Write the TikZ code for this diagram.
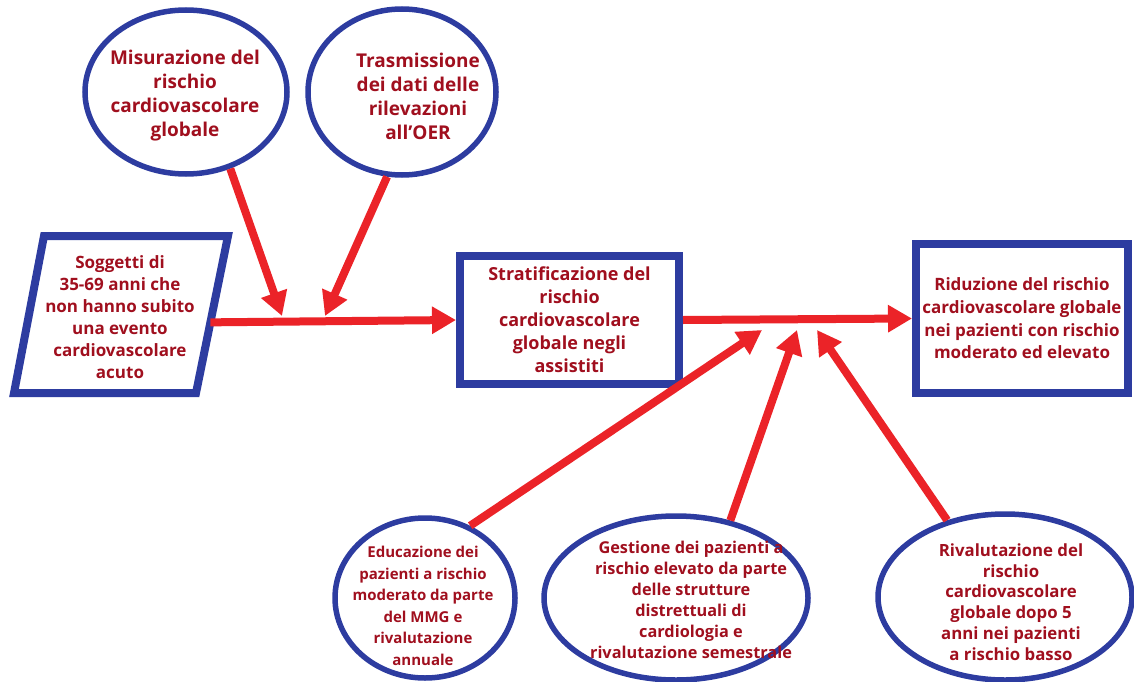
\documentclass[tikz,border=0pt]{standalone}
\usepackage{fontspec}
\setmainfont{Open Sans}
\usetikzlibrary{shapes.geometric,arrows.meta,calc}
\definecolor{bordblue}{RGB}{45,60,160}
\definecolor{txtred}{RGB}{160,15,30}
\definecolor{arrred}{RGB}{235,35,40}
\begin{document}
\begin{tikzpicture}[x=1pt,y=-1pt,
  lbl/.style={text=txtred, align=center, inner sep=0pt, font=\bfseries\fontsize{17}{22}\selectfont},
  ell/.style={draw=bordblue, line width=5.5pt, ellipse, inner sep=0pt},
  box/.style={draw=bordblue, line width=8pt, rectangle, inner sep=0pt, text=txtred, align=center},
  arr/.style={draw=arrred, line width=8pt, -{Triangle[length=24pt,width=26pt]}},
]
\useasboundingbox (0,0) rectangle (1134,682);

% parallelogram
\coordinate (pa) at (44,236);
\coordinate (pb) at (228,236);
\coordinate (pc) at (196,393);
\coordinate (pd) at (14,393);
\draw[draw=bordblue, line width=8pt, line join=miter] (pa) -- (pb) -- (pc) -- (pd) -- cycle;
\node[lbl] (sog) at (120,317) {Soggetti di\\35-69 anni che\\non hanno subito\\una evento\\cardiovascolare\\acuto};

% top ellipses
\node[ell, minimum width=202pt, minimum height=164pt] (mis) at (186,92) {};
\node[lbl, font=\bfseries\fontsize{19}{24}\selectfont] (mist) at (185,96) {Misurazione del\\rischio\\cardiovascolare\\globale};
\node[ell, minimum width=188pt, minimum height=166pt] (tra) at (402,92) {};
\node[lbl, font=\bfseries\fontsize{19}{24}\selectfont] (trat) at (418,96) {Trasmissione\\dei dati delle\\rilevazioni\\all'OER};

% boxes
\node[box, minimum width=219pt, minimum height=128pt, font=\bfseries\fontsize{18}{23}\selectfont] (str) at (569.5,320) {Stratificazione del\\rischio\\cardiovascolare\\globale negli\\assistiti};
\node[box, minimum width=212pt, minimum height=149pt, font=\bfseries\fontsize{17}{22.7}\selectfont] (rid) at (1022,318.5) {Riduzione del rischio\\cardiovascolare globale\\nei pazienti con rischio\\moderato ed elevato};

% bottom ellipses
\node[ell, minimum width=180pt, minimum height=160pt] (edu) at (425,598) {};
\node[lbl, font=\bfseries\fontsize{15}{21.5}\selectfont] (edut) at (423,606) {Educazione dei\\pazienti a rischio\\moderato da parte\\del MMG e\\rivalutazione\\annuale};
\node[ell, minimum width=264pt, minimum height=164pt] (ges) at (676,598) {};
\node[lbl, font=\bfseries\fontsize{16.3}{21}\selectfont] (gest) at (691,600) {Gestione dei pazienti a\\rischio elevato da parte\\delle strutture\\distrettuali di\\cardiologia e\\rivalutazione semestrale};
\node[ell, minimum width=254pt, minimum height=166pt] (riv) at (1005,597) {};
\node[lbl, font=\bfseries\fontsize{16.8}{20.7}\selectfont] (rivt) at (1011,602) {Rivalutazione del\\rischio\\cardiovascolare\\globale dopo 5\\anni nei pazienti\\a rischio basso};

% tips on main lines
\coordinate (t1) at (282,316);
\coordinate (t2) at (325,316);
\coordinate (t3) at (762,330);
\coordinate (t4) at (797,330);
\coordinate (t5) at (817,330);

% arrows
\draw[arr] ($(pb)!0.55!(pc)$) -- (str.west);
\draw[arr] (mis.-60) -- (t1);
\draw[arr] (tra.-100) -- (t2);
\draw[arr] (str.east) -- (rid.west);
\draw[arr] (edu.58) -- (t3);
\draw[arr] (ges.55) -- (t4);
\draw[arr] (riv.127) -- (t5);
\end{tikzpicture}
\end{document}
